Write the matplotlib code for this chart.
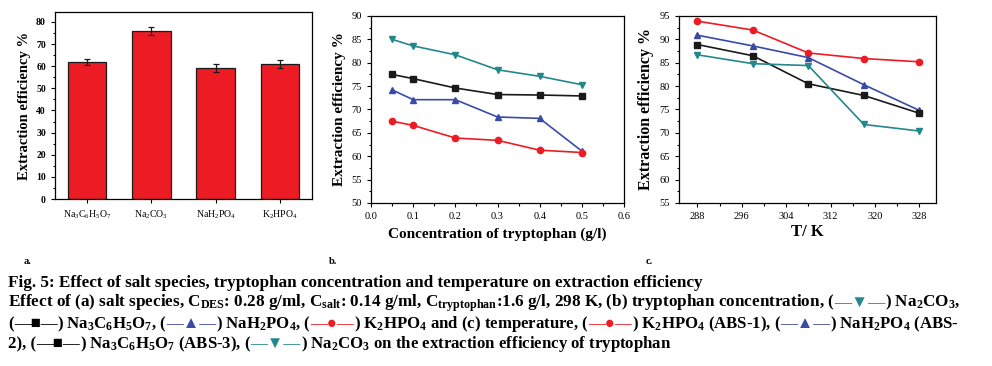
import matplotlib
matplotlib.use("Agg")
import matplotlib.pyplot as plt
from matplotlib.ticker import MultipleLocator, FormatStrFormatter

plt.rcParams['mathtext.default'] = 'regular'
plt.rcParams['font.family'] = ['Liberation Serif', 'DejaVu Serif']

# ---------------- data ----------------
salts = ['Na$_3$C$_6$H$_5$O$_7$', 'Na$_2$CO$_3$', 'NaH$_2$PO$_4$', 'K$_2$HPO$_4$']
salt_eff = [62.0, 76.0, 59.2, 61.0]
salt_err = [1.3, 1.8, 1.7, 1.8]

conc = [0.05, 0.1, 0.2, 0.3, 0.4, 0.5]
conc_na2co3 = [85.0, 83.6, 81.7, 78.5, 77.1, 75.3]
conc_citrate = [77.5, 76.6, 74.6, 73.2, 73.1, 72.9]
conc_nah2po4 = [74.2, 72.1, 72.1, 68.4, 68.1, 61.1]
conc_k2hpo4 = [67.5, 66.6, 63.9, 63.4, 61.3, 60.8]

temp = [288, 298, 308, 318, 328]
temp_k2hpo4 = [93.9, 92.0, 87.1, 85.9, 85.2]
temp_nah2po4 = [90.9, 88.6, 86.1, 80.3, 74.8]
temp_citrate = [88.9, 86.5, 80.5, 78.0, 74.2]
temp_na2co3 = [86.7, 84.8, 84.4, 71.8, 70.4]

RED = '#ED1C24'
BLUE = '#3A4BA6'
TEAL = '#22888C'
BLACK = '#1A1A1A'

W, H = 992, 366
fig = plt.figure(figsize=(W / 100, H / 100), dpi=100)


def style(ax, labelsize=7.5):
    ax.tick_params(which='both', direction='out', top=False, right=False,
                   labelsize=labelsize, width=0.8)
    ax.tick_params(which='major', length=3)
    ax.tick_params(which='minor', length=1.8)
    for s in ax.spines.values():
        s.set_linewidth(0.9)


# ---------------- panel a ----------------
ax1 = fig.add_axes([55 / W, 1 - 199 / H, 257 / W, 187 / H])
xpos = list(range(1, len(salts) + 1))
ax1.bar(xpos, salt_eff, width=0.6, color=RED, edgecolor=BLACK, linewidth=0.9,
        yerr=salt_err, capsize=2.5, error_kw=dict(elinewidth=0.9, capthick=0.9, ecolor=BLACK))
ax1.set_xlim(0.5, 4.5)
ax1.set_ylim(0, 84.5)
ax1.set_xticks(xpos)
ax1.set_xticklabels(salts)
ax1.yaxis.set_major_locator(MultipleLocator(10))
ax1.yaxis.set_minor_locator(MultipleLocator(5))
style(ax1, 7)
for lab in ax1.get_yticklabels():
    lab.set_fontweight('bold')
ax1.set_ylabel('Extraction efficiency %', fontsize=10.5, fontweight='bold', labelpad=4)

# ---------------- panel b ----------------
ax2 = fig.add_axes([371 / W, 1 - 203 / H, 253 / W, 187 / H])
ax2.plot(conc, conc_na2co3, color=TEAL, marker='v', ms=5, lw=1.2)
ax2.plot(conc, conc_citrate, color=BLACK, marker='s', ms=4.5, lw=1.2)
ax2.plot(conc, conc_nah2po4, color=BLUE, marker='^', ms=5, lw=1.2)
ax2.plot(conc, conc_k2hpo4, color=RED, marker='o', ms=4.5, lw=1.2)
ax2.set_xlim(0, 0.6)
ax2.set_ylim(50, 90)
ax2.xaxis.set_major_locator(MultipleLocator(0.1))
ax2.xaxis.set_minor_locator(MultipleLocator(0.05))
ax2.xaxis.set_major_formatter(FormatStrFormatter('%.1f'))
ax2.yaxis.set_major_locator(MultipleLocator(5))
ax2.yaxis.set_minor_locator(MultipleLocator(2.5))
style(ax2, 7.5)
ax2.set_ylabel('Extraction efficiency %', fontsize=11, fontweight='bold', labelpad=4)
ax2.set_xlabel('Concentration of tryptophan (g/l)', fontsize=11, fontweight='bold', labelpad=5)

# ---------------- panel c ----------------
ax3 = fig.add_axes([679 / W, 1 - 203 / H, 257 / W, 187 / H])
ax3.plot(temp, temp_k2hpo4, color=RED, marker='o', ms=4.5, lw=1.2)
ax3.plot(temp, temp_nah2po4, color=BLUE, marker='^', ms=5, lw=1.2)
ax3.plot(temp, temp_citrate, color=BLACK, marker='s', ms=4.5, lw=1.2)
ax3.plot(temp, temp_na2co3, color=TEAL, marker='v', ms=5, lw=1.2)
ax3.set_xlim(284.7, 331)
ax3.set_ylim(55, 95)
ax3.xaxis.set_major_locator(MultipleLocator(8))
ax3.xaxis.set_minor_locator(MultipleLocator(4))
ax3.yaxis.set_major_locator(MultipleLocator(5))
ax3.yaxis.set_minor_locator(MultipleLocator(2.5))
style(ax3, 7.5)
ax3.set_ylabel('Extraction efficiency %', fontsize=11.5, fontweight='bold', labelpad=4)
ax3.set_xlabel('T/ K', fontsize=12, fontweight='bold', labelpad=2)

# panel letters
for txt, px in (('a.', 24), ('b.', 329), ('c.', 646)):
    fig.text(px / W, 1 - 262 / H, txt, fontsize=7.5, fontweight='bold', va='center', ha='left')

# ---------------- caption ----------------
renderer = fig.canvas.get_renderer()
CAP_FS = 12.3


def seg_width(s, fs):
    t1 = fig.text(0, 0, '|' + s + '|', fontsize=fs, fontweight='bold')
    t2 = fig.text(0, 0, '||', fontsize=fs, fontweight='bold')
    w = t1.get_window_extent(renderer).width - t2.get_window_extent(renderer).width
    t1.remove()
    t2.remove()
    return w


def draw_line(segments, x0, ybase, x_end):
    natural = sum(seg_width(s, CAP_FS) for s, _ in segments)
    fs = min(CAP_FS, CAP_FS * (x_end - x0) / natural)
    x = x0
    for s, c in segments:
        fig.text(x / W, 1 - ybase / H, s, fontsize=fs, fontweight='bold',
                 color=c, ha='left', va='baseline')
        x += seg_width(s, fs)


k = 'black'
lines = [
    [("Fig. 5: Effect of salt species, tryptophan concentration and temperature on extraction efficiency", k)],
    [("Effect of (a) salt species, C$_{DES}$: 0.28 g/ml, C$_{salt}$: 0.14 g/ml, C$_{tryptophan}$:1.6 g/l, 298 K, (b) tryptophan concentration, (", k),
     ("\u2014\u25BC\u2014", TEAL), (") Na$_2$CO$_3$,", k)],
    [("(", k), ("\u2014\u25A0\u2014", k), (") Na$_3$C$_6$H$_5$O$_7$, (", k),
     ("\u2014\u25B2\u2014", BLUE), (") NaH$_2$PO$_4$, (", k),
     ("\u2014\u25CF\u2014", RED), (") K$_2$HPO$_4$ and (c) temperature, (", k),
     ("\u2014\u25CF\u2014", RED), (") K$_2$HPO$_4$ (ABS-1), (", k),
     ("\u2014\u25B2\u2014", BLUE), (") NaH$_2$PO$_4$ (ABS-", k)],
    [("2), (", k), ("\u2014\u25A0\u2014", k), (") Na$_3$C$_6$H$_5$O$_7$ (ABS-3), (", k),
     ("\u2014\u25BC\u2014", TEAL), (") Na$_2$CO$_3$ on the extraction efficiency of tryptophan", k)],
]
baselines = [287, 306.5, 328, 348]
line_ends = [705, 960, 960, 672]
for segs, yb, xe in zip(lines, baselines, line_ends):
    draw_line(segs, 8, yb, xe)

fig.savefig('out.png', dpi=100)
